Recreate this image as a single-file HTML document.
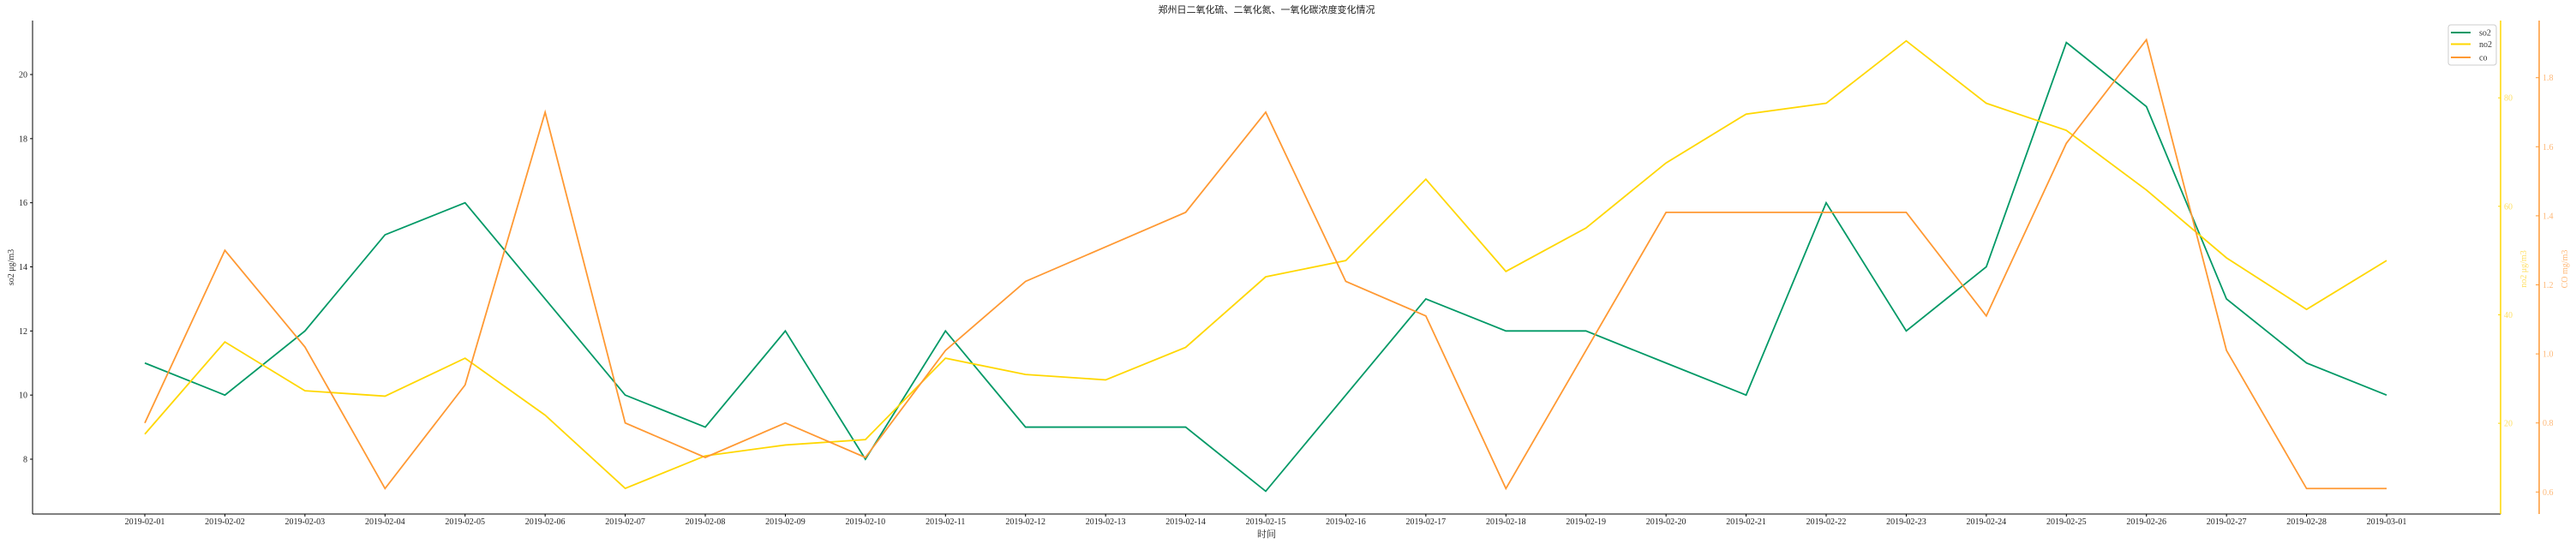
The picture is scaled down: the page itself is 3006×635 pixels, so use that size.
<!DOCTYPE html>
<html><head><meta charset="utf-8"><style>
html,body{margin:0;padding:0;background:#fff;}
svg{display:block;font-family:"Liberation Serif","Noto Serif CJK SC",serif;}
</style></head><body>
<svg id="chart" width="3006" height="635" viewBox="0 0 3006 635" xmlns="http://www.w3.org/2000/svg">
<text x="1478" y="15" font-size="11" text-anchor="middle" fill="#222" font-family="Liberation Sans, Noto Sans CJK SC, sans-serif">郑州日二氧化硫、二氧化氮、一氧化碳浓度变化情况</text>
<g id="axes"></g>
<g id="marks"></g>
<g>
<rect x="2857" y="29" width="56" height="47" rx="3" fill="#fff" stroke="#ccc"/>
<line x1="2860" y1="38" x2="2883" y2="38" stroke="#009966" stroke-width="2"/>
<text x="2893" y="41.5" font-size="10" fill="#333">so2</text>
<line x1="2860" y1="51.5" x2="2883" y2="51.5" stroke="#FFD700" stroke-width="2"/>
<text x="2893" y="55" font-size="10" fill="#333">no2</text>
<line x1="2860" y1="67" x2="2883" y2="67" stroke="#FF9933" stroke-width="2"/>
<text x="2893" y="70.5" font-size="10" fill="#333">co</text>
</g>
</svg>
<script>
const dates = ["2019-02-01","2019-02-02","2019-02-03","2019-02-04","2019-02-05","2019-02-06","2019-02-07","2019-02-08","2019-02-09","2019-02-10","2019-02-11","2019-02-12","2019-02-13","2019-02-14","2019-02-15","2019-02-16","2019-02-17","2019-02-18","2019-02-19","2019-02-20","2019-02-21","2019-02-22","2019-02-23","2019-02-24","2019-02-25","2019-02-26","2019-02-27","2019-02-28","2019-03-01"];
const so2 = [11,10,12,15,16,13,10,9,12,8,12,9,9,9,7,10,13,12,12,11,10,16,12,14,21,19,13,11,10];
const no2 = [18,35,26,25,32,21.5,8,14,16,17,32,29,28,34,47,50,65,48,56,68,77,79,90.5,79,74,63,50.5,41,50];
const co = [0.8,1.3,1.02,0.61,0.91,1.7,0.8,0.7,0.8,0.7,1.01,1.21,1.31,1.41,1.7,1.21,1.11,0.61,1.01,1.41,1.41,1.41,1.41,1.11,1.61,1.91,1.01,0.61,0.61];
const so2Ticks = [8,10,12,14,16,18,20];
const no2Ticks = [20,40,60,80];
const coTicks = [0.6,0.8,1.0,1.2,1.4,1.6,1.8];

const NS="http://www.w3.org/2000/svg";
const pTop=24,pBottom=600,pLeft=38,pRight=2918,coX=2963;
const xPos=i=>169+i*(2785-169)/(dates.length-1);
const ySo2=v=>87+(20-v)*(536-87)/12;
const yNo2=v=>114.2+(80-v)*(494.1-114.2)/60;
const yCo=v=>90.7+(1.8-v)*(574.3-90.7)/1.2;
function mk(tag,attrs,parent){const e=document.createElementNS(NS,tag);for(const k in attrs)e.setAttribute(k,attrs[k]);parent.appendChild(e);return e;}
const axesG=document.getElementById('axes'),marksG=document.getElementById('marks');

let el;
el=mk('line',{x1:pLeft,y1:pTop,x2:pLeft,y2:pBottom,stroke:'#000'},axesG);


el=mk('line',{x1:pLeft,y1:pBottom,x2:pRight,y2:pBottom,stroke:'#000'},axesG);


el=mk('line',{x1:pRight,y1:pTop,x2:pRight,y2:pBottom,stroke:'#FFD700','stroke-width':1.5},axesG);


el=mk('line',{x1:coX,y1:pTop,x2:coX,y2:pBottom,stroke:'#FF9933','stroke-width':1.5},axesG);



dates.forEach((d,i)=>{
  mk('line',{x1:xPos(i),y1:pBottom,x2:xPos(i),y2:pBottom+3,stroke:'#000'},axesG);
  const t=mk('text',{x:xPos(i),y:pBottom+12,'font-size':10,'text-anchor':'middle',fill:'#222'},axesG);
  t.textContent=d;
  
  
});
so2Ticks.forEach(v=>{
  mk('line',{x1:pLeft-3,y1:ySo2(v),x2:pLeft,y2:ySo2(v),stroke:'#000'},axesG);
  const t=mk('text',{x:pLeft-6,y:ySo2(v)+3.5,'font-size':10,'text-anchor':'end',fill:'#222'},axesG);
  t.textContent=v;
  
  
});
no2Ticks.forEach(v=>{
  mk('line',{x1:pRight-3,y1:yNo2(v),x2:pRight,y2:yNo2(v),stroke:'#FFD700'},axesG);
  const t=mk('text',{x:pRight+4,y:yNo2(v)+3.5,'font-size':10,fill:'#FFE066'},axesG);
  t.textContent=v;
  
  
});
coTicks.forEach(v=>{
  mk('line',{x1:coX-4,y1:yCo(v),x2:coX,y2:yCo(v),stroke:'#FF9933'},axesG);
  const t=mk('text',{x:coX+4,y:yCo(v)+3.5,'font-size':10,fill:'#FFB877'},axesG);
  t.textContent=v.toFixed(1);
  
  
});
let tt;
tt=mk('text',{x:1478,y:627,'font-size':11,'text-anchor':'middle',fill:'#222'},axesG);
tt.textContent='时间';


tt=mk('text',{x:0,y:0,'font-size':10,'text-anchor':'middle',fill:'#333',transform:'translate(16,312) rotate(-90)'},axesG);
tt.textContent='so2  μg/m3';


tt=mk('text',{x:0,y:0,'font-size':10,'text-anchor':'middle',fill:'#FFE066',transform:'translate(2948,314) rotate(-90)'},axesG);
tt.textContent='no2  μg/m3';


tt=mk('text',{x:0,y:0,'font-size':10,'text-anchor':'middle',fill:'#FFB877',transform:'translate(2996,314) rotate(-90)'},axesG);
tt.textContent='CO  mg/m3';



function drawLine(vals,fy,color,name){
  const p=mk('polyline',{points:vals.map((v,i)=>xPos(i)+','+fy(v)).join(' '),fill:'none',stroke:color,'stroke-width':1.8},marksG);
  
  
}
drawLine(so2,ySo2,'#009966','so2-line');
drawLine(no2,yNo2,'#FFD700','no2-line');
drawLine(co,yCo,'#FF9933','co-line');
</script>
</body></html>
